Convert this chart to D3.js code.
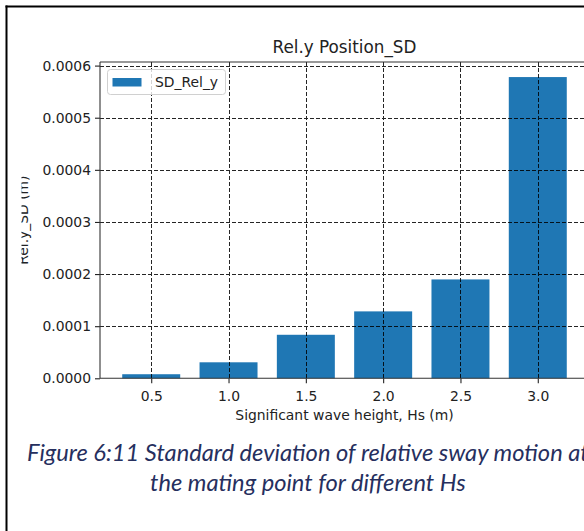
<!DOCTYPE html>
<html>
<head>
<meta charset="utf-8">
<script src="https://cdn.jsdelivr.net/npm/d3@7"></script>
<style>
  html, body { margin: 0; padding: 0; background: #fff; }
  svg { display: block; }
</style>
</head>
<body>
<svg id="chart" width="584" height="531"></svg>
<script>
// ---- data ----
const categories = [0.5, 1.0, 1.5, 2.0, 2.5, 3.0];
const sdRelY = [0.0000078, 0.0000307, 0.0000835, 0.0001284, 0.0001897, 0.000578];
const xTicks = [0.5, 1.0, 1.5, 2.0, 2.5, 3.0];
const yTicks = [0.0000, 0.0001, 0.0002, 0.0003, 0.0004, 0.0005, 0.0006];
const titleText = "Rel.y Position_SD";
const xLabelText = "Significant wave height, Hs (m)";
const yLabelText = "Rel.y_SD (m)";
const legendLabel = "SD_Rel_y";
const captionLines = ["Figure 6:11 Standard deviation of relative sway motion at", "the mating point for different Hs"];

const svg = d3.select("#chart");
const font = "'DejaVu Sans', sans-serif";
const barColor = "#1f77b4";

// frame of the page
svg.append("line").attr("x1", 6.5).attr("x2", 6.5).attr("y1", 5.5).attr("y2", 531)
  .attr("stroke", "#000").attr("stroke-width", 2);
svg.append("line").attr("x1", 5.5).attr("x2", 584).attr("y1", 6.5).attr("y2", 6.5)
  .attr("stroke", "#000").attr("stroke-width", 2);

// scales
const barWidth = 0.375;
const xMin = categories[0] - barWidth / 2, xMax = categories[categories.length - 1] + barWidth / 2;
const xPad = (xMax - xMin) * 0.05;
const x = d3.scaleLinear().domain([xMin - xPad, xMax + xPad]).range([100, 589]);
const yMaxVal = d3.max(sdRelY) * 1.05;
const y = d3.scaleLinear().domain([0, yMaxVal]).range([378.3, 62]);

// bars
svg.append("g").selectAll("rect").data(categories).join("rect")
  .attr("x", d => x(d - barWidth / 2))
  .attr("width", d => x(d + barWidth / 2) - x(d - barWidth / 2))
  .attr("y", (d, i) => y(sdRelY[i]))
  .attr("height", (d, i) => y(0) - y(sdRelY[i]))
  .attr("fill", barColor);

// grid (drawn above bars)
const grid = svg.append("g").attr("stroke", "#000").attr("stroke-width", 1).attr("stroke-dasharray", "4,2").attr("opacity", 0.85);
grid.selectAll("line.v").data(xTicks).join("line").attr("class", "v")
  .attr("x1", d => Math.round(x(d)) + 0.5).attr("x2", d => Math.round(x(d)) + 0.5)
  .attr("y1", y.range()[1]).attr("y2", y.range()[0]);
grid.selectAll("line.h").data(yTicks.slice(1)).join("line").attr("class", "h")
  .attr("y1", d => Math.round(y(d)) + 0.5).attr("y2", d => Math.round(y(d)) + 0.5)
  .attr("x1", x.range()[0]).attr("x2", x.range()[1]);

// axes
const xAxis = d3.axisBottom(x).tickValues(xTicks).tickFormat(d3.format(".1f")).tickSize(5).tickPadding(4);
const yAxis = d3.axisLeft(y).tickValues(yTicks).tickFormat(d3.format(".4f")).tickSize(5).tickPadding(4);

const gx = svg.append("g").attr("transform", `translate(0,${y.range()[0]})`).call(xAxis);
const gy = svg.append("g").attr("transform", `translate(${x.range()[0]},0)`).call(yAxis);
[gx, gy].forEach(g => {
  g.select(".domain").remove();
  g.selectAll(".tick line").attr("stroke", "#222").attr("stroke-width", 1.1);
  g.selectAll(".tick text").attr("fill", "#222").style("font-family", font).style("font-size", "13.9px");
});
gx.selectAll(".tick text").attr("dy", "0.95em");

// spines
const spines = svg.append("g").attr("stroke", "#333").attr("stroke-width", 1.1).attr("fill", "none");
spines.append("line").attr("x1", x.range()[0]).attr("x2", x.range()[0]).attr("y1", y.range()[1]).attr("y2", y.range()[0]);
spines.append("line").attr("x1", x.range()[0]).attr("x2", x.range()[1]).attr("y1", y.range()[0]).attr("y2", y.range()[0]);
spines.append("line").attr("x1", x.range()[0]).attr("x2", x.range()[1]).attr("y1", y.range()[1]).attr("y2", y.range()[1]);

// title
svg.append("text").attr("x", (x.range()[0] + x.range()[1]) / 2).attr("y", 53)
  .attr("text-anchor", "middle").style("font-family", font).style("font-size", "16.8px").attr("fill", "#222")
  .text(titleText);

// x label
svg.append("text").attr("x", (x.range()[0] + x.range()[1]) / 2).attr("y", 420)
  .attr("text-anchor", "middle").style("font-family", font).style("font-size", "13.9px").attr("fill", "#222")
  .text(xLabelText);

// y label (clipped at left as in the source image)
svg.append("clipPath").attr("id", "ylclip").append("rect").attr("x", 21.5).attr("y", 0).attr("width", 60).attr("height", 531);
svg.append("g").attr("clip-path", "url(#ylclip)")
  .append("text").attr("transform", `translate(28,${(y.range()[0] + y.range()[1]) / 2}) rotate(-90)`)
  .attr("text-anchor", "middle").style("font-family", font).style("font-size", "13.9px").attr("fill", "#222")
  .text(yLabelText);

// legend
const lg = svg.append("g");
lg.append("rect").attr("x", 107.5).attr("y", 69.5).attr("width", 118).attr("height", 25).attr("rx", 3)
  .attr("fill", "#fff").attr("fill-opacity", 0.8).attr("stroke", "#d0d0d0").attr("stroke-width", 1);
lg.append("rect").attr("x", 112.5).attr("y", 78).attr("width", 29).attr("height", 8.5).attr("fill", barColor);
lg.append("text").attr("x", 155).attr("y", 86.5).style("font-family", font).style("font-size", "13.9px").attr("fill", "#222")
  .text(legendLabel);

// caption
const capFont = "Lato, 'Open Sans', sans-serif";
const capColor = "#262f5e";
const probe = svg.append("text").style("font-family", capFont).style("font-style", "italic").style("font-size", "20px")
  .text(captionLines[0]);
const probeW = probe.node().getComputedTextLength();
probe.remove();
const capSize = 20 * 562 / probeW;
const capX = 27;
const line1 = svg.append("text").attr("x", capX).attr("y", 461)
  .style("font-family", capFont).style("font-style", "italic").style("font-size", capSize + "px").attr("fill", capColor)
  .text(captionLines[0]);
const w1 = line1.node().getComputedTextLength();
svg.append("text").attr("x", capX + w1 / 2).attr("y", 491).attr("text-anchor", "middle")
  .style("font-family", capFont).style("font-style", "italic").style("font-size", capSize + "px").attr("fill", capColor)
  .text(captionLines[1]);
</script>
</body>
</html>
